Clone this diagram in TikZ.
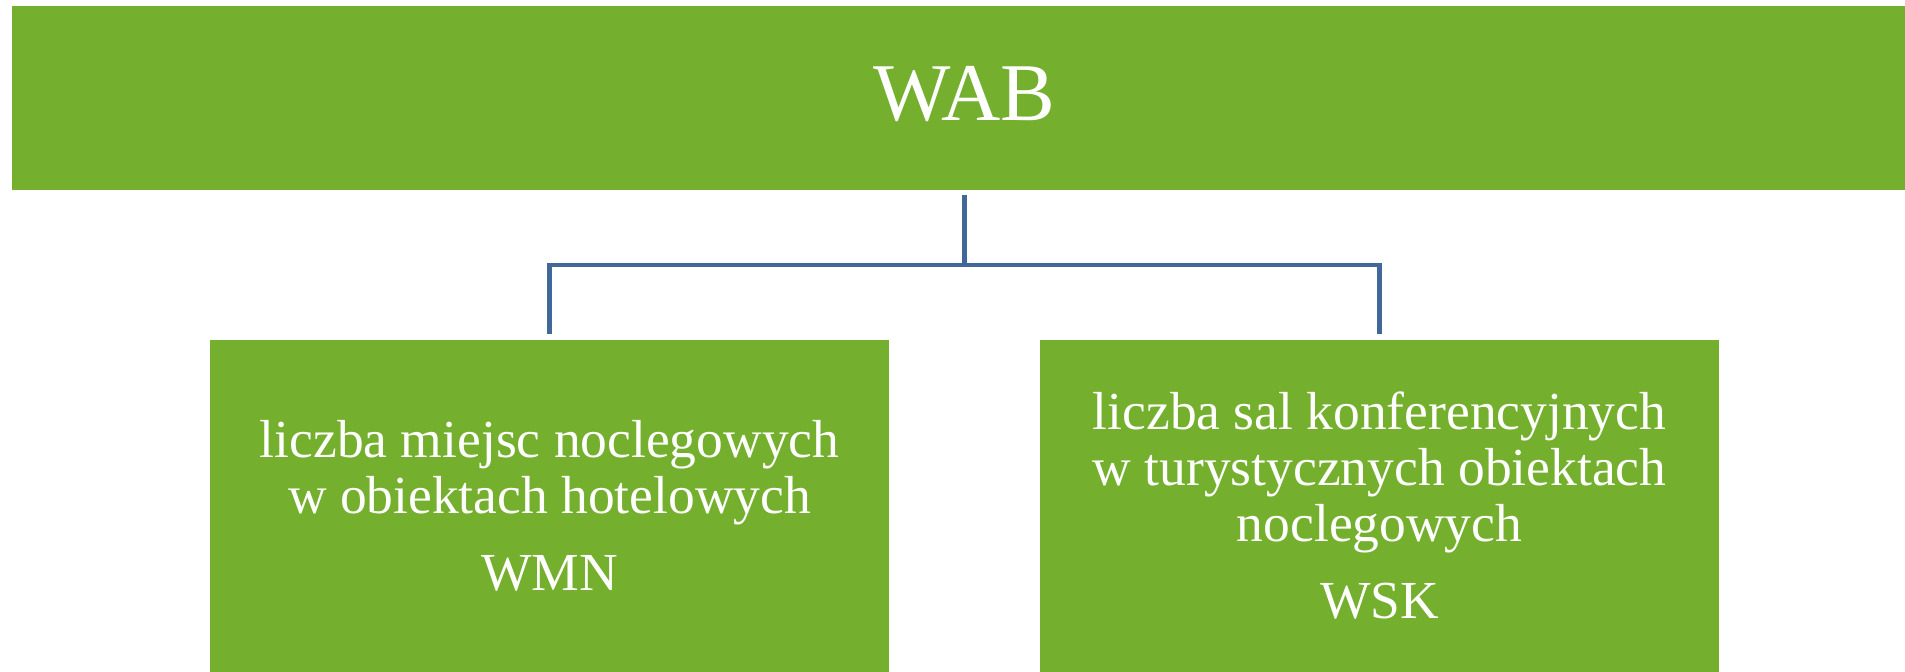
\documentclass[tikz,border=0pt]{standalone}
\usepackage{fontspec}
\setmainfont{Liberation Serif}
\usetikzlibrary{positioning}

\definecolor{leafgreen}{RGB}{116,175,46}
\definecolor{linkblue}{RGB}{65,104,153}

\tikzset{
	greenbox/.style={fill=leafgreen, draw=none, inner sep=0pt, text=white, align=center},
	headbox/.style={greenbox, minimum width=952.5pt, minimum height=92pt, text depth=4.7pt,
		font=\fontsize{41}{44}\selectfont},
	childbox/.style={greenbox, minimum width=339.5pt, minimum height=166pt,
		font=\fontsize{26.75}{28}\selectfont},
	link/.style={draw=linkblue, line width=2.4pt, line cap=butt, line join=miter}
}

\begin{document}
\begin{tikzpicture}[x=0.5pt, y=-0.5pt]
		%%%%% START %%%%%
		
		\useasboundingbox (0, 0) rectangle (1905, 672);
		\clip (0, 0) rectangle (1905, 672);
		
		% top bar, runs off the right edge
		\node[headbox] (wab) at (964.5, 98) {WAB};
		
		% the two indicators
		\node[childbox] (wmn) at (549.5, 506) {liczba miejsc noclegowych\\w obiektach hotelowych\\[10.5pt]WMN};
		\node[childbox] (wsk) at (1379.5, 506) {liczba sal konferencyjnych\\w turystycznych obiektach\\noclegowych\\[10.5pt]WSK};
		
		% fork between them
		\coordinate (fork) at (964.5, 265);
		\draw[link] ([yshift=-2.5pt]wab.south) -- (fork);
		\draw[link] (fork) -| ([yshift=3pt]wmn.north);
		\draw[link] (fork) -| ([yshift=3pt]wsk.north);
		
		%%%%% END %%%%%
	\end{tikzpicture}
\end{document}
